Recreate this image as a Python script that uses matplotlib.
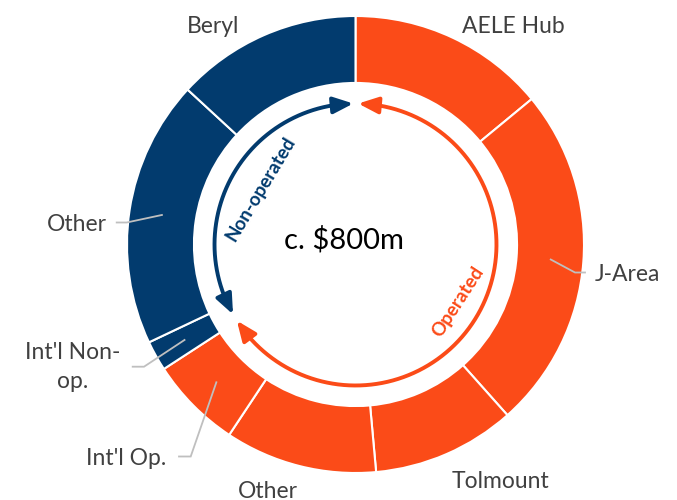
import numpy as np
import matplotlib.pyplot as plt

# --- Data (c. $800m split by asset) ---
assets = ["AELE Hub", "J-Area", "Tolmount", "Other", "Int'l Op.",
          "Int'l Non-\nop.", "Other", "Beryl"]
values = [112, 195, 81, 86, 52, 17, 151, 105]
operated = [True, True, True, True, True, False, False, False]

ORANGE = '#FB4B18'
BLUE = '#023B6E'
TXT = '#404040'
GREY = '#BFBFBF'
FONT = 'Lato'

# pixel layout helpers (reference is 677x500, ring centre ~ (355.5, 244.5), R ~ 228.5 px)
CX, CY, RPX = 355.5, 244.5, 228.5


def px(x, y):
    return (x - CX) / RPX, (CY - y) / RPX


def polar(a_deg, r):
    # a_deg measured clockwise from 12 o'clock
    t = np.deg2rad(90 - a_deg)
    return r * np.cos(t), r * np.sin(t)


fig = plt.figure(figsize=(6.77, 5.0), dpi=100)
ax = fig.add_axes([0, 0, 1, 1])

colors = [ORANGE if o else BLUE for o in operated]
ax.pie(values, colors=colors, startangle=90, counterclock=False, radius=1.0,
       wedgeprops=dict(width=0.293, edgecolor='white', linewidth=1.5))

# pie() resets the limits, so set them afterwards
ax.set_xlim(-CX / RPX, (677 - CX) / RPX)
ax.set_ylim(-(500 - CY) / RPX, CY / RPX)
ax.set_aspect('equal')
ax.axis('off')

# wedge mid angles (clockwise from top)
cum = np.cumsum([0] + values)
total = cum[-1]
starts = cum[:-1] / total * 360
ends = cum[1:] / total * 360
mids = (starts + ends) / 2

# --- labels ---
plain = {0: (513, 33), 2: (500, 488), 3: (268, 498), 7: (213, 33)}
for i, (x, y) in plain.items():
    ax.text(*px(x, y), assets[i], ha='center', va='baseline', fontsize=16.5,
            color=TXT, family=FONT)

# labels with leader lines: (text pos, text align, elbow x, line end x)
leaders = {
    1: ((595, 281), 'left', 575, 585),
    4: ((126.5, 465), 'center', 190.7, 179),
    5: ((73, 342), 'center', 144, 132.7),
    6: ((76.5, 231), 'center', 126.7, 116.7),
}
for i, ((tx, ty), ha, ex, lx) in leaders.items():
    x0, y0 = polar(mids[i], 0.857)
    ly = ty - 8.5 if i != 5 else 366.7
    ex_, ey_ = px(ex, ly)
    lx_, ly_ = px(lx, ly)
    ax.plot([x0, ex_, lx_], [y0, ey_, ly_], color=GREY, lw=1.3,
            solid_joinstyle='miter')
    if i == 5:
        ax.text(*px(tx, ty), assets[i], ha='center', va='top', fontsize=16.5,
                color=TXT, family=FONT, linespacing=1.45, multialignment='center')
    else:
        ax.text(*px(tx, ty), assets[i], ha=ha, va='baseline', fontsize=16.5,
                color=TXT, family=FONT)

# --- centre total ---
ax.text(*px(344, 240), 'c. $800m', ha='center', va='center', fontsize=21,
        color='black', family=FONT)

# --- operated / non-operated arrows ---
RA = 0.617
op_span = ends[4]


def arc_arrow(a0, a1, color):
    # arc from a0 to a1 (clockwise degrees), arrowheads at both ends
    head = 6.5
    aa = np.linspace(a0 + head, a1 - head, 200)
    xs, ys = polar(aa, RA)
    ax.plot(xs, ys, color=color, lw=2.8, solid_capstyle='butt')
    for tip, back in ((a0, a0 + 8), (a1, a1 - 8)):
        ax.annotate('', xy=polar(tip, RA), xytext=polar(back, RA),
                    arrowprops=dict(arrowstyle='-|>,head_length=0.6,head_width=0.25',
                                    color=color, lw=2.8, shrinkA=0, shrinkB=0,
                                    mutation_scale=20))


arc_arrow(1.1, op_span + 0.3, ORANGE)
arc_arrow(op_span + 3.3, 359.1, BLUE)

ax.text(*px(260.5, 189), 'Non-operated', rotation=59, ha='center', va='center',
        fontsize=13.5, fontweight='bold', color=BLUE, family=FONT,
        rotation_mode='anchor')
ax.text(*px(457.5, 301.7), 'Operated', rotation=57, ha='center', va='center',
        fontsize=13.5, fontweight='bold', color=ORANGE, family=FONT,
        rotation_mode='anchor')

fig.savefig('out.png', dpi=100)
